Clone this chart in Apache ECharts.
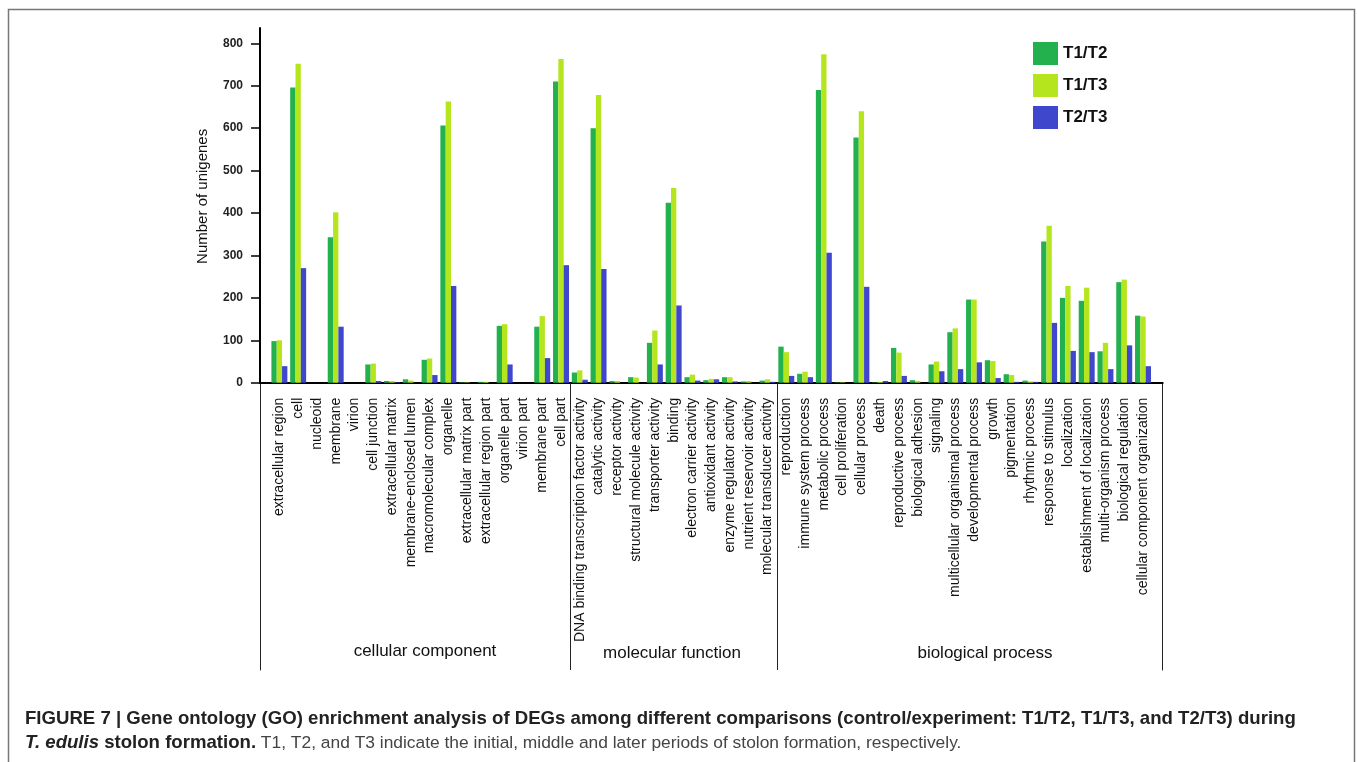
<!DOCTYPE html>
<html><head><meta charset="utf-8">
<script src="https://cdn.jsdelivr.net/npm/echarts@6/dist/echarts.min.js"></script>
<style>html,body{margin:0;padding:0;background:#fff}#c{width:1357px;height:762px}</style>
</head><body><div id="c"></div>
<script>
const ccCats = ['extracellular region','cell','nucleoid','membrane','virion','cell junction','extracellular matrix','membrane-enclosed lumen','macromolecular complex','organelle','extracellular matrix part','extracellular region part','organelle part','virion part','membrane part','cell part'];
const mfCats = ['DNA binding transcription factor activity','catalytic activity','receptor activity','structural molecule activity','transporter activity','binding','electron carrier activity','antioxidant activity','enzyme regulator activity','nutrient reservoir activity','molecular transducer activity'];
const bpCats = ['reproduction','immune system process','metabolic process','cell proliferation','cellular process','death','reproductive process','biological adhesion','signaling','multicellular organismal process','developmental process','growth','pigmentation','rhythmic process','response to stimulus','localization','establishment of localization','multi-organism process','biological regulation','cellular component organization'];
const groupNames = ['cellular component','molecular function','biological process'];

const t1t2 = [98,696,0,343,0,43,4,8,54,606,1,2,134,0,132,710,
  24,600,4,13,94,424,13,6,13,3,5,
  85,21,690,1,578,1,82,6,43,119,196,53,20,5,333,200,193,74,237,158];
const t1t3 = [100,752,0,402,0,45,4,5,57,663,1,2,138,0,157,763,
  29,678,4,12,123,459,19,9,13,4,8,
  72,26,774,1,640,2,71,4,50,128,196,51,18,3,370,228,224,94,243,156];
const t2t3 = [39,270,0,132,0,4,1,0,18,228,0,0,43,0,58,277,
  7,268,0,0,43,182,5,8,3,0,2,
  16,13,306,0,226,4,16,0,27,32,48,11,2,2,141,75,72,32,88,39];
const yTicks = [0,100,200,300,400,500,600,700,800];
const seriesNames = ['T1/T2','T1/T3','T2/T3'];
const colors = ['#22B14C','#B5E61D','#3F48CC'];

const categories = ccCats.concat(mfCats, bpCats);
const sepIdx = [ccCats.length, ccCats.length + mfCats.length];
const F = '"Liberation Sans", Arial, Helvetica, sans-serif';
const CF = 18.6;

const chart = echarts.init(document.getElementById('c'));
const option = {
  animation: false,
  backgroundColor: '#fff',
  color: colors,
  grid: [
    {left: 270, right: 204.6, top: 28, bottom: 379.3},
    {left: 270, right: 204.6, top: 382.7, bottom: 92},
    {left: 260, right: 194.3, top: 300, bottom: 379.3}
  ],
  legend: {
    data: seriesNames, orient: 'vertical', left: 1028, top: 37,
    itemWidth: 25, itemHeight: 23, itemGap: 9, icon: 'rect', selectedMode: false,
    textStyle: {fontFamily: F, fontWeight: 'bold', fontSize: 17, color: '#111'}
  },
  xAxis: [
    {type: 'category', gridIndex: 0, data: categories,
      axisLine: {lineStyle: {color: '#000', width: 2}},
      axisTick: {alignWithLabel: true, interval: 0, length: 10, lineStyle: {color: '#000', width: 1.5}},
      axisLabel: {interval: 0, rotate: 90, fontSize: 14, color: '#111', margin: 15, fontFamily: F}},
    {type: 'value', gridIndex: 1, min: 0, max: categories.length, show: false},
    {type: 'value', gridIndex: 2, min: 0, max: 1,
      axisLine: {show: true, onZero: false, lineStyle: {color: '#000', width: 2}},
      axisTick: {show: false}, axisLabel: {show: false}, splitLine: {show: false}}
  ],
  yAxis: [
    {type: 'value', gridIndex: 0, min: 0, max: 836, interval: 100, offset: 10,
      name: 'Number of unigenes', nameLocation: 'middle', nameGap: 50,
      nameTextStyle: {fontFamily: F, fontSize: 15, color: '#111', padding: [0, 0, 0, 18]},
      axisLine: {show: true, onZero: false, lineStyle: {color: '#000', width: 2}},
      axisTick: {show: true, length: 9, customValues: yTicks, lineStyle: {color: '#000', width: 1.5}},
      axisLabel: {customValues: yTicks, fontFamily: F, fontWeight: 'bold', fontSize: 12, color: '#222', margin: 17,
        formatter: function (v) { return yTicks.indexOf(v) >= 0 ? String(v) : ''; }},
      splitLine: {show: false}},
    {type: 'value', gridIndex: 1, min: 0, max: 1, offset: 10,
      axisLine: {show: true, onZero: false, lineStyle: {color: '#222', width: 1}},
      axisTick: {show: false}, axisLabel: {show: false}, splitLine: {show: false}},
    {type: 'value', gridIndex: 1, position: 'right', min: 0, max: 1, offset: 10,
      axisLine: {show: true, onZero: false, lineStyle: {color: '#222', width: 1}},
      axisTick: {show: false}, axisLabel: {show: false}, splitLine: {show: false}},
    {type: 'value', gridIndex: 2, show: false, min: 0, max: 1}
  ],
  series: [t1t2, t1t3, t2t3].map(function (d, i) {
    return {name: seriesNames[i], type: 'bar', xAxisIndex: 0, yAxisIndex: 0, data: d,
      barGap: '0%', barCategoryGap: '15%', itemStyle: {color: colors[i]}};
  }).concat([{
    name: 'groups', type: 'line', xAxisIndex: 1, yAxisIndex: 1, data: [], silent: true,
    markLine: {silent: true, symbol: 'none', label: {show: false},
      lineStyle: {color: '#222', width: 1, type: 'solid'},
      data: sepIdx.map(function (v) { return {xAxis: v}; })}
  }]),
  graphic: [
    {type: 'rect', shape: {x: 8.5, y: 9.5, width: 1346, height: 800}, style: {fill: 'none', stroke: '#777', lineWidth: 1.5}, silent: true},
    {type: 'text', x: 425, y: 651, style: {text: groupNames[0], fontFamily: F, fontSize: 17, fill: '#111', textAlign: 'center', textVerticalAlign: 'middle'}},
    {type: 'text', x: 672, y: 653, style: {text: groupNames[1], fontFamily: F, fontSize: 17, fill: '#111', textAlign: 'center', textVerticalAlign: 'middle'}},
    {type: 'text', x: 985, y: 653, style: {text: groupNames[2], fontFamily: F, fontSize: 17, fill: '#111', textAlign: 'center', textVerticalAlign: 'middle'}},
    {type: 'text', x: 25, y: 707, style: {
      text: '{b|FIGURE 7 | Gene ontology (GO) enrichment analysis of DEGs among different comparisons (control/experiment: T1/T2, T1/T3, and T2/T3) during}\n{bi|T. edulis}{b| stolon formation.}{n| T1, T2, and T3 indicate the initial, middle and later periods of stolon formation, respectively.}',
      fontFamily: F, fontSize: CF, fill: '#222',
      rich: {
        b: {fontFamily: F, fontSize: CF, fontWeight: 'bold', fill: '#222', lineHeight: 24},
        bi: {fontFamily: F, fontSize: CF, fontWeight: 'bold', fontStyle: 'italic', fill: '#222', lineHeight: 24},
        n: {fontFamily: F, fontSize: 17.4, fill: '#444', lineHeight: 24}
      }}}
  ]
};
chart.setOption(option);
</script></body></html>
